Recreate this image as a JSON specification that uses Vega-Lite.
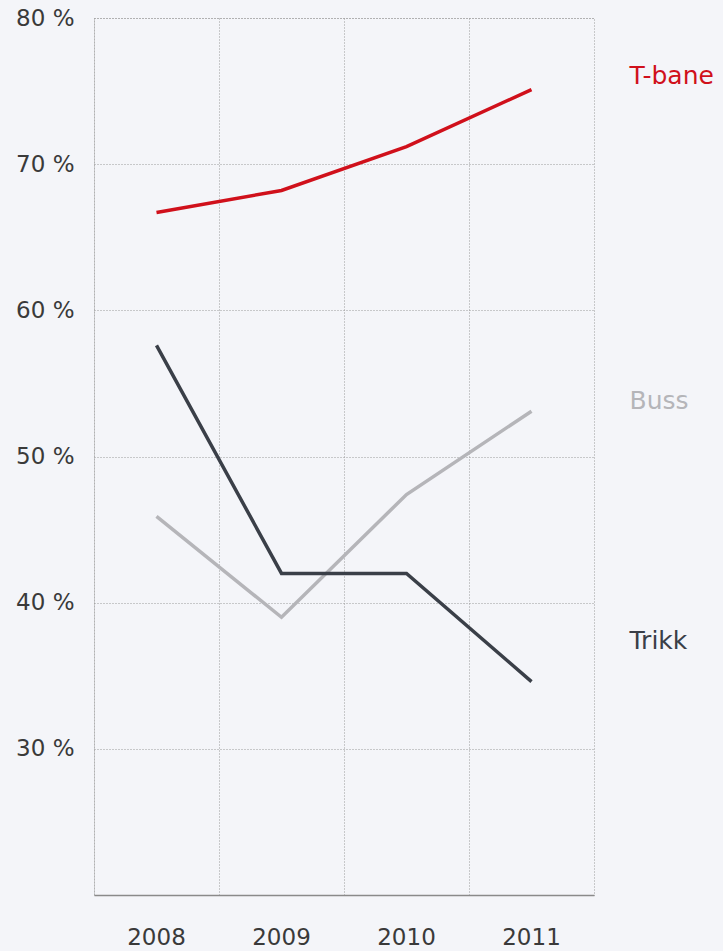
{
  "$schema": "https://vega.github.io/schema/vega-lite/v6.json",
  "width": 500,
  "height": 877,
  "autosize": {"type": "none"},
  "padding": {"left": 94, "top": 18, "right": 129, "bottom": 56},
  "background": "#f4f5f9",
  "config": {
    "font": "DejaVu Sans",
    "view": {"stroke": "#9a9a9a", "strokeDash": [1, 2], "strokeWidth": 1}
  },
  "data": {
    "values": [
      {"year": "2008", "series": "T-bane", "value": 66.7},
      {"year": "2009", "series": "T-bane", "value": 68.2},
      {"year": "2010", "series": "T-bane", "value": 71.2},
      {"year": "2011", "series": "T-bane", "value": 75.1},
      {"year": "2008", "series": "Buss", "value": 45.9},
      {"year": "2009", "series": "Buss", "value": 39.0},
      {"year": "2010", "series": "Buss", "value": 47.4},
      {"year": "2011", "series": "Buss", "value": 53.1},
      {"year": "2008", "series": "Trikk", "value": 57.6},
      {"year": "2009", "series": "Trikk", "value": 42.0},
      {"year": "2010", "series": "Trikk", "value": 42.0},
      {"year": "2011", "series": "Trikk", "value": 34.6}
    ]
  },
  "encoding": {
    "x": {
      "field": "year",
      "type": "ordinal",
      "scale": {"type": "band", "paddingInner": 0, "paddingOuter": 0},
      "axis": {
        "title": null,
        "labelAngle": 0,
        "labelFontSize": 23,
        "labelColor": "#3a3a3a",
        "labelPadding": 31,
        "ticks": false,
        "domainColor": "#8a8a8a",
        "domainWidth": 1.5,
        "grid": true,
        "bandPosition": 0,
        "gridColor": "#9a9a9a",
        "gridDash": [1, 2],
        "gridWidth": 1
      }
    },
    "y": {
      "field": "value",
      "type": "quantitative",
      "scale": {"domain": [20, 80], "nice": false, "zero": false},
      "axis": {
        "title": null,
        "values": [30, 40, 50, 60, 70, 80],
        "labelExpr": "datum.value + ' %'",
        "labelFontSize": 23,
        "labelColor": "#3a3a3a",
        "labelPadding": 20,
        "ticks": false,
        "domain": false,
        "grid": true,
        "gridColor": "#9a9a9a",
        "gridDash": [1, 2],
        "gridWidth": 1
      }
    },
    "color": {
      "field": "series",
      "type": "nominal",
      "scale": {"domain": ["T-bane", "Buss", "Trikk"], "range": ["#d0101b", "#b5b5b9", "#3a3f48"]},
      "legend": null
    }
  },
  "layer": [
    {"mark": {"type": "line", "strokeWidth": 3.5}},
    {
      "transform": [{"filter": "datum.year == '2011' && datum.series == 'T-bane'"}],
      "mark": {"type": "text", "align": "left", "baseline": "middle", "dx": 98, "dy": -14, "fontSize": 25},
      "encoding": {"text": {"field": "series"}}
    },
    {
      "transform": [{"filter": "datum.year == '2011' && datum.series == 'Buss'"}],
      "mark": {"type": "text", "align": "left", "baseline": "middle", "dx": 98, "dy": -10, "fontSize": 25},
      "encoding": {"text": {"field": "series"}}
    },
    {
      "transform": [{"filter": "datum.year == '2011' && datum.series == 'Trikk'"}],
      "mark": {"type": "text", "align": "left", "baseline": "middle", "dx": 98, "dy": -41, "fontSize": 25},
      "encoding": {"text": {"field": "series"}}
    }
  ]
}
